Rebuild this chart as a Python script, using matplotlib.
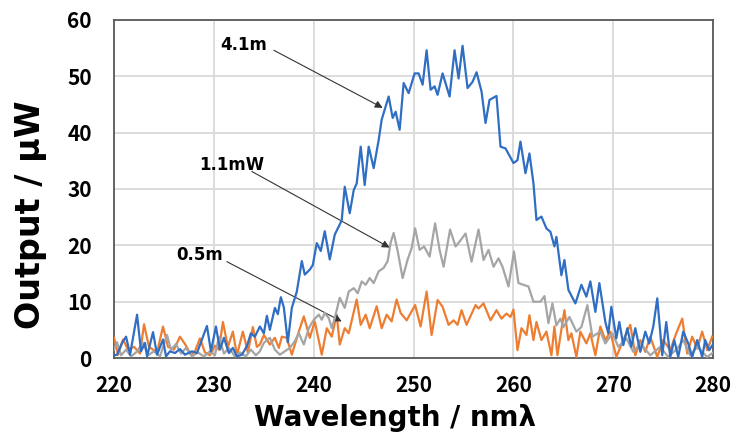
import numpy as np
import matplotlib
matplotlib.use("Agg")
import matplotlib.pyplot as plt

# Fonts: Japanese gothic look, fall back to DejaVu for missing glyphs
plt.rcParams['font.family'] = ['Noto Sans CJK JP', 'DejaVu Sans']

# --- data (wavelength nm, output uW) ---
blue_x = [220.0, 220.3, 220.8, 221.2, 221.6, 222.3, 222.7, 223.1, 223.3, 223.9,
          224.3, 224.9, 225.2, 225.6, 226.1, 226.6, 227.1, 227.8, 228.3, 228.8,
          229.3, 229.7, 230.2, 230.6, 231.0, 231.5, 231.9, 232.3, 232.8, 233.3,
          233.7, 234.1, 234.6, 235.0, 235.3, 235.6, 236.1, 236.4, 236.7, 237.0,
          237.4, 237.8, 238.3, 238.8, 239.1, 239.6, 239.9, 240.3, 240.7, 241.1,
          241.6, 242.1, 242.6, 242.8, 243.1, 243.6, 244.0, 244.3, 244.7, 245.1,
          245.5, 246.0, 246.5, 246.8, 247.5, 247.9, 248.2, 248.6, 249.0, 249.5,
          250.1, 250.5, 250.9, 251.3, 251.7, 252.1, 252.4, 252.9, 253.6, 254.1,
          254.5, 254.9, 255.4, 255.9, 256.3, 256.8, 257.2, 257.6, 258.3, 258.7,
          259.2, 260.0, 260.4, 260.7, 261.2, 261.6, 262.0, 262.3, 262.8, 263.3,
          263.7, 264.1, 264.3, 264.8, 265.1, 265.5, 266.2, 266.8, 267.3, 267.7,
          268.2, 268.6, 269.2, 269.5, 269.8, 270.3, 270.6, 271.0, 271.4, 271.8,
          272.2, 272.7, 273.2, 273.6, 274.0, 274.4, 274.9, 275.3, 275.7, 276.1,
          276.5, 277.0, 277.5, 277.9, 278.4, 278.9, 279.2, 279.6, 280.0]
blue_y = [0.5, 0.6, 2.7, 3.8, 0.6, 7.7, 1.2, 2.7, 0.3, 4.6,
          0.6, 3.3, 0.3, 1.2, 0.9, 1.6, 0.6, 1.2, 0.9, 3.3,
          5.7, 1.2, 5.6, 1.5, 3.6, 0.9, 1.8, 0.3, 0.6, 2.1,
          4.4, 3.8, 5.6, 4.4, 7.5, 5.0, 8.9, 7.8, 10.8, 9.0,
          2.8, 8.9, 11.8, 17.2, 14.8, 15.7, 16.5, 20.4, 19.0, 22.5,
          17.5, 21.9, 23.7, 24.5, 30.4, 25.7, 29.8, 31.0, 37.5, 30.7,
          37.5, 33.7, 38.7, 42.3, 46.4, 42.6, 43.7, 40.5, 48.8, 47.0,
          50.5, 50.5, 48.5, 54.6, 47.6, 48.2, 46.7, 50.5, 46.4, 54.6,
          49.6, 55.4, 47.9, 49.0, 50.7, 47.3, 41.7, 45.8, 46.5, 37.5,
          37.2, 34.6, 35.1, 38.4, 32.8, 36.3, 31.0, 24.5, 25.1, 23.0,
          22.4, 19.8, 21.5, 14.7, 17.4, 12.1, 9.7, 13.0, 10.9, 13.6,
          8.2, 13.3, 6.4, 4.4, 9.1, 3.5, 6.4, 2.3, 5.3, 2.0,
          5.3, 1.1, 4.7, 2.6, 5.6, 10.6, 0.5, 6.4, 0.2, 3.2,
          0.2, 4.7, 2.6, 0.2, 3.2, 0.2, 3.2, 1.4, 2.5]

gray_x = [220.0, 220.3, 220.7, 221.2, 221.7, 222.2, 222.9, 223.4, 224.0, 224.6,
          225.3, 225.7, 226.2, 226.7, 227.2, 227.8, 228.4, 229.0, 229.6, 230.1,
          230.5, 231.0, 231.5, 232.1, 232.6, 233.2, 233.7, 234.2, 234.6, 235.0,
          235.6, 236.1, 236.6, 237.1, 237.6, 238.1, 238.5, 239.0, 239.5, 240.0,
          240.5, 240.8, 241.1, 241.5, 241.8, 242.1, 242.6, 243.1, 243.5, 244.0,
          244.4, 244.8, 245.2, 245.6, 246.0, 246.5, 247.0, 247.4, 247.7, 248.0,
          248.4, 248.9, 249.4, 249.8, 250.15, 250.6, 251.05, 251.6, 252.15, 252.6,
          253.0, 253.65, 254.2, 254.7, 255.2, 255.8, 256.5, 257.0, 257.5, 258.0,
          258.5, 258.9, 259.5, 260.05, 260.5, 261.0, 261.5, 262.0, 262.7, 263.1,
          263.5, 263.9, 264.3, 264.7, 265.0, 265.6, 266.3, 266.8, 267.4, 267.9,
          268.7, 269.2, 269.9, 270.5, 271.3, 272.0, 272.7, 273.7, 274.7, 275.5,
          276.4, 277.0, 277.7, 278.4, 279.4, 280.0]
gray_y = [1.5, 2.8, 0.5, 1.5, 0.3, 1.0, 2.7, 0.5, 1.2, 0.3,
          4.1, 1.5, 2.5, 0.8, 1.8, 0.3, 1.0, 0.3, 1.2, 0.5,
          3.8, 0.8, 1.8, 0.3, 1.0, 0.3, 1.5, 0.5, 1.2, 2.7,
          3.6, 1.5, 0.6, 1.2, 1.8, 3.0, 4.4, 2.4, 5.3, 6.8,
          7.7, 6.8, 8.0, 7.1, 5.3, 7.1, 10.7, 8.9, 11.8, 12.4,
          11.5, 13.6, 13.0, 14.2, 13.3, 15.4, 16.0, 17.2, 20.5, 22.2,
          19.0, 14.2, 17.5, 19.5, 23.0, 19.2, 19.8, 18.0, 23.9, 19.2,
          16.2, 22.8, 19.8, 20.9, 22.1, 17.1, 22.8, 17.4, 19.2, 16.2,
          17.7, 16.2, 12.7, 18.9, 13.3, 13.0, 12.7, 10.0, 10.0, 11.0,
          6.2, 9.7, 5.8, 7.0, 5.5, 7.3, 4.7, 5.5, 9.4, 3.8,
          4.7, 2.6, 4.4, 2.0, 3.5, 1.1, 2.6, 0.5, 2.0, 0.2,
          1.7, 3.2, 0.5, 2.0, 0.2, 1.0]

orange_x = [220.0, 220.4, 220.9, 221.4, 222.0, 222.6, 223.0, 223.5, 224.3, 224.9,
            225.4, 226.0, 226.6, 227.1, 227.7, 228.1, 228.6, 229.1, 229.6, 230.1,
            230.5, 230.9, 231.4, 231.9, 232.3, 232.9, 233.4, 233.9, 234.3, 234.6,
            235.0, 235.6, 236.1, 236.5, 236.8, 237.3, 237.8, 238.5, 239.0, 239.6,
            240.1, 240.8, 241.3, 241.8, 242.3, 242.6, 243.1, 243.5, 244.3, 244.7,
            245.2, 245.6, 246.3, 246.8, 247.3, 247.8, 248.3, 248.7, 249.3, 250.15,
            250.7, 251.3, 251.8, 252.4, 252.9, 253.5, 254.0, 254.4, 254.8, 255.3,
            256.2, 256.5, 257.0, 257.7, 258.3, 258.8, 259.3, 259.7, 260.0, 260.4,
            260.8, 261.3, 261.6, 262.0, 262.3, 262.8, 263.3, 263.8, 264.1, 264.4,
            265.1, 265.5, 265.8, 266.3, 266.7, 267.3, 267.7, 268.2, 268.7, 269.2,
            269.7, 270.3, 271.0, 271.7, 272.2, 272.7, 273.2, 273.7, 274.4, 275.0,
            275.7, 276.3, 276.9, 277.4, 277.9, 278.4, 278.9, 279.4, 279.9]
orange_y = [3.6, 0.6, 3.3, 1.5, 2.0, 0.8, 6.0, 2.0, 1.0, 5.6,
            2.0, 1.5, 3.8, 2.5, 0.6, 1.2, 3.5, 1.0, 0.5, 2.2,
            1.5, 6.4, 2.0, 4.7, 0.5, 4.7, 1.0, 5.5, 2.0, 2.4,
            4.1, 2.4, 3.6, 1.8, 3.8, 3.6, 0.6, 4.7, 7.4, 3.6,
            6.5, 0.6, 5.3, 3.8, 7.7, 2.4, 5.3, 4.4, 10.4, 5.9,
            7.7, 5.3, 9.2, 5.3, 7.7, 6.5, 10.4, 8.0, 6.7, 9.4,
            5.6, 11.8, 4.1, 10.3, 9.1, 5.9, 6.7, 5.9, 8.5, 5.9,
            9.4, 8.8, 9.7, 6.7, 8.5, 7.0, 7.9, 7.3, 8.6, 1.4,
            5.3, 4.1, 7.6, 3.2, 6.4, 3.2, 4.7, 0.5, 5.6, 0.5,
            8.5, 3.2, 4.4, 0.2, 4.7, 2.6, 4.4, 0.5, 5.6, 3.2,
            4.7, 0.2, 3.2, 5.9, 0.5, 3.2, 1.1, 3.8, 0.2, 3.2,
            1.4, 4.4, 7.0, 0.8, 3.8, 1.7, 4.7, 1.4, 3.8]

x_ticks = [220, 230, 240, 250, 260, 270, 280]
y_ticks = [0, 10, 20, 30, 40, 50, 60]

fig = plt.figure(figsize=(7.36, 4.41), dpi=100)
ax = fig.add_axes([0.155, 0.188, 0.814, 0.767])

ax.plot(orange_x, orange_y, color='#ED7D31', lw=1.6, zorder=3)
ax.plot(gray_x, gray_y, color='#A5A5A5', lw=1.6, zorder=4)
ax.plot(blue_x, blue_y, color='#2F6EC3', lw=1.6, zorder=5)

ax.set_xlim(220, 280)
ax.set_ylim(0, 60)
ax.set_xticks(x_ticks)
ax.set_yticks(y_ticks)
ax.grid(True, color='#D9D9D9', lw=1.3)
ax.set_axisbelow(True)
ax.tick_params(length=0, labelsize=15)
ax.tick_params(axis='x', pad=12)
ax.tick_params(axis='y', pad=16)
for lab in ax.get_xticklabels() + ax.get_yticklabels():
    lab.set_fontweight('bold')
for s in ax.spines.values():
    s.set_color('#595959')
    s.set_linewidth(1.3)

ax.set_xlabel('Wavelength / nmλ', family=['DejaVu Sans'], fontsize=20, fontweight='bold')
ax.set_ylabel('Output / μW', family=['DejaVu Sans'], fontsize=24, fontweight='bold')
ax.xaxis.set_label_coords(0.469, -0.136)
ax.yaxis.set_label_coords(-0.112, 0.423)

# annotations
arrow = dict(arrowstyle='-|>', color='#333333', lw=0.8, mutation_scale=11,
             shrinkA=0, shrinkB=0)
txt_font = dict(family=['DejaVu Sans'], fontsize=12, fontweight='bold',
                ha='center', va='center')
ax.text(233.0, 55.5, '4.1m', **txt_font)
ax.annotate('', xy=(246.9, 44.4), xytext=(236.0, 54.6), arrowprops=arrow)
ax.text(231.8, 34.3, '1.1mW', **txt_font)
ax.annotate('', xy=(247.6, 19.6), xytext=(233.8, 33.1), arrowprops=arrow)
ax.text(228.6, 18.3, '0.5m', **txt_font)
ax.annotate('', xy=(242.8, 6.5), xytext=(231.3, 17.1), arrowprops=arrow)

fig.savefig('out.png', dpi=100)
